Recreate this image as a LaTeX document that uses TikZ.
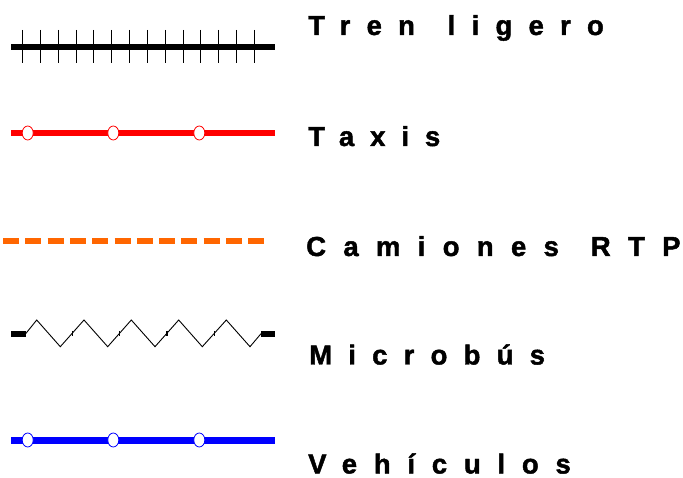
\documentclass[tikz,border=0pt]{standalone}
\usepackage{fontspec}
\usepackage{tikz}
\usetikzlibrary{shapes.geometric}
\newfontfamily\legendfont[FakeBold=1.6]{Liberation Sans}
\definecolor{rtp}{RGB}{255,102,0}
\newcommand{\track}[1]{\addfontfeature{LetterSpace=#1}}

\begin{document}
\begin{tikzpicture}[x=1pt,y=-1pt,
  label/.style = {anchor=base west, inner sep=0pt, font=\legendfont\bfseries\fontsize{27.5}{30}\selectfont},
  stop/.style = {draw, ellipse, fill=white, inner sep=0pt, minimum width=11pt, minimum height=14pt, line width=0.8pt},
  rail/.style = {line width=6pt}]
\useasboundingbox (0,0) rectangle (683,478);
% tren ligero
\coordinate (1a) at (11,47);
\coordinate (1b) at (275,47);
\draw[rail] (1a) -- (1b);
\foreach \i in {0,...,13}
  \draw[line width=1pt] (22.7+17.82*\i,30) -- (22.7+17.82*\i,63);
\node[label] (t1) at (308,35) {\track{59}Tren\hspace{9pt} ligero};
% taxis
\coordinate (2a) at (11,133);
\coordinate (2b) at (275,133);
\draw[rail, red] (2a) -- (2b);
\node[stop, draw=red] (s1) at (27.7,133) {};
\node[stop, draw=red] (s2) at (113.3,133) {};
\node[stop, draw=red] (s3) at (199.3,133) {};
\node[label] (t2) at (308,146) {\track{58}Taxis};
% camiones
\coordinate (3a) at (3,241);
\coordinate (3b) at (268,241);
\draw[line width=6.5pt, rtp, dash pattern=on 16pt off 6.3pt] (3a) -- (3b);
\node[label] (t3) at (306,256) {\track{63}Camiones\hspace{7pt} RTP};
% microbus
\coordinate (4a) at (11,333.7);
\coordinate (4b) at (25.7,333.7);
\coordinate (4c) at (261,333.7);
\coordinate (4d) at (275,333.7);
\draw[rail] (4a) -- (4b);
\draw[rail] (4c) -- (4d);
\draw[line width=0.9pt] (4b) -- (36.7,320) -- (60.3,346.7) -- (84,320) -- (107.7,346.7)
  -- (131.3,320) -- (155,346.7) -- (178.7,320) -- (202.3,346.7) -- (226.3,320)
  -- (250,346.7) -- (4c);
\foreach \x in {72.2,119.5,166.8,214.3}
  \draw[line width=1.4pt] (\x,331) -- (\x,336);
\node[label] (t4) at (309,364.5) {\track{59}Microbús};
% vehiculos
\coordinate (5a) at (11,440);
\coordinate (5b) at (275,440);
\draw[line width=7pt, blue] (5a) -- (5b);
\node[stop, draw=blue] (s4) at (27.7,440) {};
\node[stop, draw=blue] (s5) at (113.3,440) {};
\node[stop, draw=blue] (s6) at (199.3,440) {};
\node[label] (t5) at (308,473.5) {\track{61}Vehículos};
\end{tikzpicture}
\end{document}
